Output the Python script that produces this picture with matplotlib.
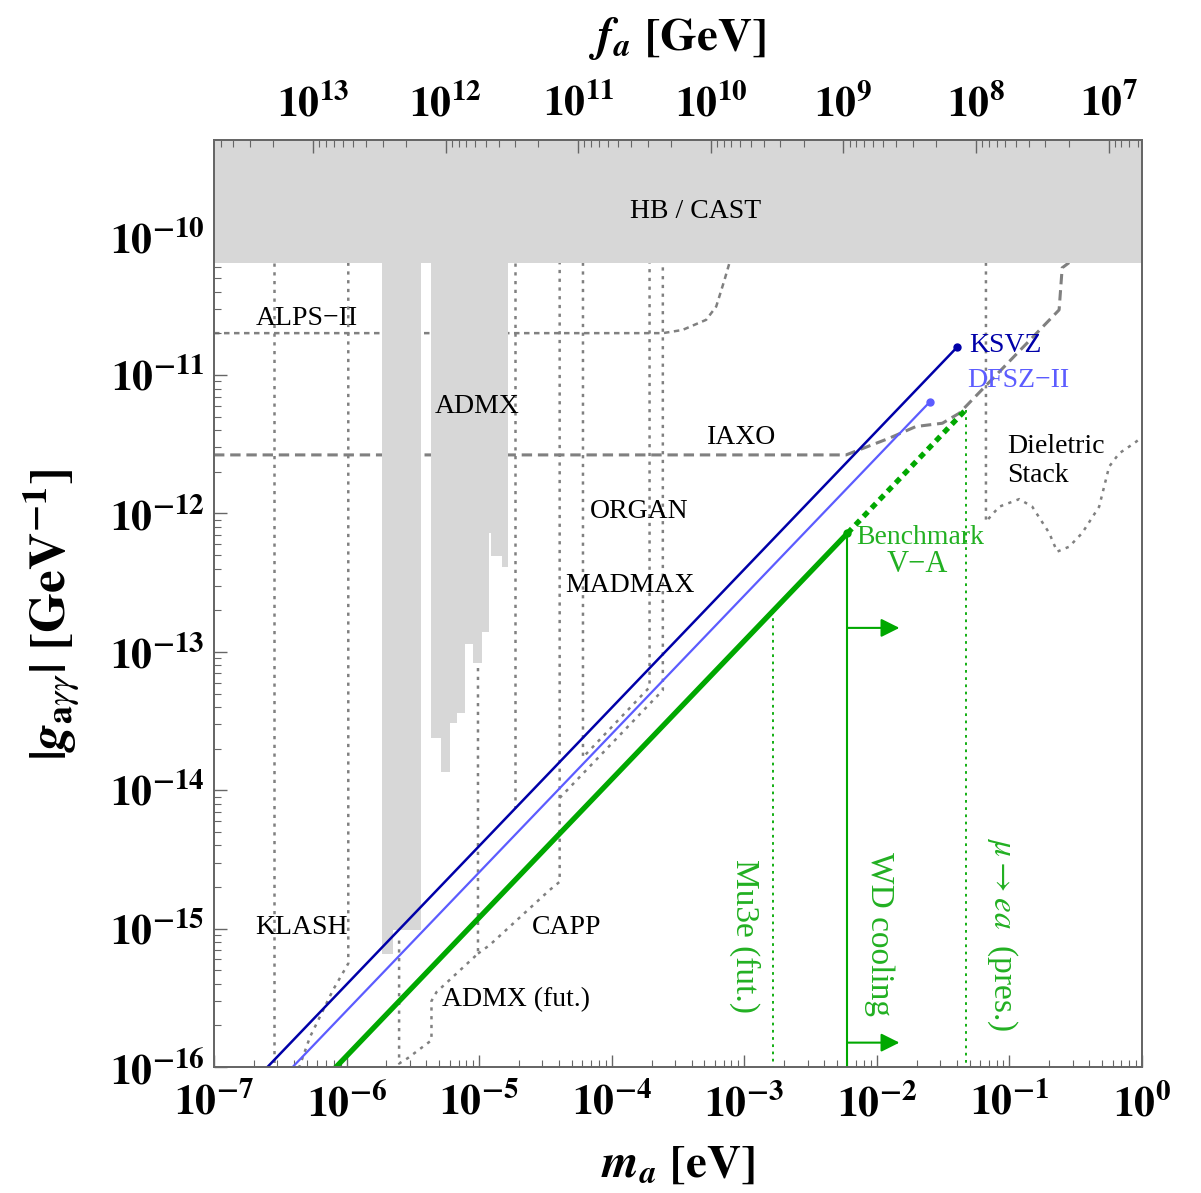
import numpy as np
import matplotlib
matplotlib.use("Agg")
import matplotlib.pyplot as plt
from matplotlib.ticker import LogLocator, FuncFormatter, NullFormatter, FixedLocator

plt.rcParams['font.family'] = ['Liberation Serif', 'DejaVu Serif']
plt.rcParams['mathtext.fontset'] = 'stix'

# ---------------- data ----------------
K_FA = 5.6e6          # f_a [GeV] * m_a [eV]
G_BAND = 6.5e-11      # HB / CAST bound
XLIM = (1e-7, 1.0)
YLIM = (1e-16, 5.0e-10)
FA_DECADES = [7, 8, 9, 10, 11, 12, 13]

# model lines (m_a [eV], g [GeV^-1])
ksvz_m = [1e-7, 0.0405]
ksvz_g = [3.95e-17, 1.60e-11]
dfsz_m = [1e-7, 0.0252]
dfsz_g = [2.55e-17, 6.43e-12]
bench_m = [1e-7, 6.0e-3]
bench_g = [1.2e-17, 7.2e-13]
bench_dot_m = [6.0e-3, 0.047]
bench_dot_g = [7.2e-13, 5.64e-12]

# green vertical limits
mu3e_m = 1.64e-3
mu3e_g = [1.97e-13, 1e-16]
wd_m = 6.0e-3
wd_g = [7.2e-13, 1e-16]
wd_arrow_g = [1.49e-13, 1.5e-16]
wd_arrow_end = 0.0148
muea_m = 0.047
muea_g = [5.64e-12, 1e-16]

# ADMX excluded columns (step edges, bottom values)
admx1_edges = [1.85e-6, 2.23e-6, 3.63e-6]
admx1_bottom = [6.6e-16, 9.7e-16]
admx2_edges = [4.37e-6, 5.14e-6, 6.0e-6, 6.77e-6, 7.78e-6, 8.95e-6, 1.047e-5,
               1.18e-5, 1.22e-5, 1.48e-5, 1.65e-5]
admx2_bottom = [2.38e-14, 1.35e-14, 3.05e-14, 3.60e-14, 1.14e-13, 8.3e-14,
                1.39e-13, 7.2e-13, 4.93e-13, 4.1e-13]

# ALPS-II
alps_m = [1e-7, 2.43e-4, 3.42e-4, 5.16e-4, 6.14e-4, 7.09e-4, 7.74e-4]
alps_g = [2.01e-11, 2.01e-11, 2.12e-11, 2.51e-11, 3.13e-11, 4.87e-11, 6.5e-11]

# IAXO
iaxo_m = [1e-7, 5.86e-3, 0.0124, 0.0197, 0.0312, 0.0419, 0.237, 0.250, 0.282]
iaxo_g = [2.65e-12, 2.65e-12, 3.50e-12, 4.25e-12, 4.49e-12, 5.31e-12, 2.96e-11,
          5.96e-11, 6.5e-11]

# KLASH
klash_left_m = 2.83e-7
klash_m = [1.03e-6, 1.03e-6, 7.9e-7, 5.3e-7, 4.4e-7]
klash_g = [6.5e-11, 5.6e-16, 3.6e-16, 1.65e-16, 1.0e-16]

# ADMX (fut.)
admxf_m = [2.49e-6, 2.49e-6, 2.90e-6, 4.37e-6, 4.37e-6, 4.77e-6, 9.8e-6, 9.8e-6]
admxf_g = [8.2e-16, 1.06e-16, 1.16e-16, 1.56e-16, 3.0e-16, 3.48e-16, 6.6e-16, 6.5e-11]

# CAPP
capp_m = [9.8e-6, 1.2e-5, 3.4e-5, 4.05e-5, 4.05e-5]
capp_g = [6.6e-16, 7.6e-16, 1.9e-15, 2.18e-15, 6.5e-11]

# extra vertical
v515_m = 1.85e-5
v515_g = [6.5e-11, 7.5e-15]

# ORGAN
organ_m = [6.07e-5, 6.07e-5, 1.93e-4, 1.93e-4]
organ_g = [6.5e-11, 1.73e-14, 5.56e-14, 6.5e-11]

# MADMAX
madmax_m = [4.05e-5, 2.43e-4, 2.43e-4]
madmax_g = [8.8e-15, 5.29e-14, 6.5e-11]

# Dielectric stack
diel_m = [0.0665, 0.0665, 0.0838, 0.1186, 0.1486, 0.1995, 0.229, 0.282, 0.354,
          0.475, 0.565, 0.673, 0.873, 0.984]
diel_g = [6.5e-11, 8.73e-13, 1.12e-12, 1.27e-12, 1.12e-12, 7.23e-13, 5.30e-13,
          5.75e-13, 7.23e-13, 1.12e-12, 2.18e-12, 2.72e-12, 3.22e-12, 3.52e-12]

# ---------------- style ----------------
GRAY_FILL = '#d7d7d7'
GRAY_LINE = '#808080'
GREEN = '#00a800'
GREEN_TXT = '#22b022'
KSVZ_C = '#0000a8'
DFSZ_C = '#5c5cff'
DOT = (0, (1.3, 2.2))

fig = plt.figure(figsize=(12.01, 11.93), dpi=100)
ax = fig.add_axes([214/1201, 1 - 1067/1193, (1142-214)/1201, (1067-140)/1193])
ax.set_xscale('log')
ax.set_yscale('log')
ax.set_xlim(*XLIM)
ax.set_ylim(*YLIM)

# HB/CAST band
ax.fill_between(XLIM, [G_BAND, G_BAND], [YLIM[1]*2, YLIM[1]*2], color=GRAY_FILL, lw=0, zorder=2)

# gray dotted / dashed experiment lines
lkw = dict(color=GRAY_LINE, lw=1.8, ls=DOT, zorder=1)
ax.plot([klash_left_m, klash_left_m], [G_BAND, YLIM[0]], **lkw)
ax.plot(klash_m, klash_g, **lkw)
ax.plot(admxf_m, admxf_g, **lkw)
ax.plot(capp_m, capp_g, **lkw)
ax.plot([v515_m, v515_m], v515_g, **lkw)
ax.plot(organ_m, organ_g, **lkw)
ax.plot(madmax_m, madmax_g, **lkw)
ax.plot(diel_m, diel_g, **lkw)
ax.plot(alps_m, alps_g, color=GRAY_LINE, lw=1.8, ls=(0, (2.2, 1.8)), zorder=1)
ax.plot(iaxo_m, iaxo_g, color=GRAY_LINE, lw=2.2, ls=(0, (3.4, 1.9)), zorder=1)

# ADMX columns
ax.fill_between(admx1_edges, admx1_bottom + [admx1_bottom[-1]], G_BAND*1.05,
                step='post', color=GRAY_FILL, lw=0, zorder=2)
ax.fill_between(admx2_edges, admx2_bottom + [admx2_bottom[-1]], G_BAND*1.05,
                step='post', color=GRAY_FILL, lw=0, zorder=2)

# model lines
ax.plot(ksvz_m, ksvz_g, color=KSVZ_C, lw=1.8, zorder=4)
ax.plot(ksvz_m[-1], ksvz_g[-1], 'o', color=KSVZ_C, ms=5, zorder=4)
ax.plot(dfsz_m, dfsz_g, color=DFSZ_C, lw=1.6, zorder=4)
ax.plot(dfsz_m[-1], dfsz_g[-1], 'o', color=DFSZ_C, ms=5, zorder=4)
ax.plot(bench_m, bench_g, color=GREEN, lw=3.8, zorder=4, solid_capstyle='butt')
ax.plot(bench_dot_m, bench_dot_g, color=GREEN, lw=3.8, ls=(0, (1.2, 1.0)), zorder=4)
ax.plot(bench_m[-1], bench_g[-1], 'o', color=GREEN, ms=5, zorder=4)

# green vertical lines
ax.plot([mu3e_m, mu3e_m], mu3e_g, color=GREEN, lw=1.3, ls=(0, (1.5, 2.5)), zorder=4)
ax.plot([muea_m, muea_m], muea_g, color=GREEN, lw=1.3, ls=(0, (1.5, 2.5)), zorder=4)
ax.plot([wd_m, wd_m], wd_g, color=GREEN, lw=1.5, zorder=4)
for ga in wd_arrow_g:
    ax.annotate('', xy=(wd_arrow_end, ga), xytext=(wd_m, ga),
                arrowprops=dict(arrowstyle='-|>', color=GREEN, lw=1.5,
                                mutation_scale=28, shrinkA=0, shrinkB=0),
                zorder=4)

# labels
tk = dict(fontsize=20, color='black', zorder=5)
ax.text(4.28e-4, 1.51e-10, 'HB / CAST', ha='center', va='center', **tk)
ax.text(4.98e-7, 2.55e-11, 'ALPS\u2212II', ha='center', va='center', **tk)
ax.text(9.6e-6, 5.89e-12, 'ADMX', ha='center', va='center', **tk)
ax.text(9.53e-4, 3.57e-12, 'IAXO', ha='center', va='center', **tk)
ax.text(1.62e-4, 1.03e-12, 'ORGAN', ha='center', va='center', **tk)
ax.text(1.36e-4, 3.04e-13, 'MADMAX', ha='center', va='center', **tk)
ax.text(4.53e-7, 1.02e-15, 'KLASH', ha='center', va='center', **tk)
ax.text(4.57e-5, 1.02e-15, 'CAPP', ha='center', va='center', **tk)
ax.text(1.89e-5, 3.09e-16, 'ADMX (fut.)', ha='center', va='center', **tk)
ax.text(0.0962, 2.41e-12, 'Dieletric\nStack', ha='left', va='center',
        linespacing=1.2, **tk)
ax.text(0.0498, 1.63e-11, 'KSVZ', ha='left', va='center', fontsize=20, color=KSVZ_C, zorder=5)
ax.text(0.0481, 9.2e-12, 'DFSZ\u2212II', ha='left', va='center', fontsize=20, color=DFSZ_C, zorder=5)
ax.text(0.0213, 6.68e-13, 'Benchmark', ha='center', va='center', fontsize=20, color=GREEN_TXT, zorder=5)
ax.text(0.0202, 4.25e-13, 'V\u2212A', ha='center', va='center', fontsize=22, color=GREEN_TXT, zorder=5)
ax.text(1.0e-3, 8.8e-16, 'Mu3e (fut.)', ha='center', va='center', rotation=-90,
        fontsize=24, color=GREEN_TXT, zorder=5)
ax.text(0.01045, 9.1e-16, 'WD cooling', ha='center', va='center', rotation=-90,
        fontsize=24, color=GREEN_TXT, zorder=5)
ax.text(0.0883, 9.1e-16, r'$\mu\rightarrow ea$  (pres.)', ha='center', va='center',
        rotation=-90, fontsize=24, color=GREEN_TXT, zorder=5)

# axes styling
def fmt(v, pos):
    if v <= 0:
        return ''
    e = int(np.round(np.log10(v)))
    if abs(v - 10.0**e) > 1e-6 * 10.0**e:
        return ''
    return r'$\mathbf{10^{%d}}$' % e

FRAME = '#666666'
for s in ax.spines.values():
    s.set_color(FRAME)
    s.set_linewidth(1.3)
ax.xaxis.set_major_locator(LogLocator(base=10, numticks=20))
ax.xaxis.set_minor_locator(LogLocator(base=10, subs=np.arange(2, 10), numticks=20))
ax.yaxis.set_major_locator(LogLocator(base=10, numticks=20))
ax.yaxis.set_minor_locator(LogLocator(base=10, subs=np.arange(2, 10), numticks=20))
ax.xaxis.set_major_formatter(FuncFormatter(fmt))
ax.yaxis.set_major_formatter(FuncFormatter(fmt))
ax.xaxis.set_minor_formatter(NullFormatter())
ax.yaxis.set_minor_formatter(NullFormatter())
ax.tick_params(which='both', direction='in', colors=FRAME, labelcolor='black',
               top=False, right=False)
ax.tick_params(which='major', length=9, width=1.0, labelsize=30)
ax.tick_params(axis='x', which='major', pad=12)
ax.tick_params(axis='y', which='major', pad=7)
ax.tick_params(which='minor', length=5, width=0.8)

# top axis: f_a = K / m_a
top = ax.twiny()
top.set_xscale('log')
top.set_xlim(*XLIM)
major_m = [K_FA / 10.0**n for n in FA_DECADES]
minor_m = [K_FA / (k * 10.0**n) for n in range(6, 14) for k in range(2, 10)]
minor_m = [v for v in minor_m if XLIM[0] <= v <= XLIM[1]]
top.xaxis.set_major_locator(FixedLocator(major_m))
top.xaxis.set_minor_locator(FixedLocator(minor_m))
top.set_xticklabels([r'$\mathbf{10^{%d}}$' % n for n in FA_DECADES])
top.xaxis.set_minor_formatter(NullFormatter())
top.tick_params(which='both', direction='in', colors=FRAME, labelcolor='black')
top.tick_params(which='major', length=9, width=1.0, labelsize=30, pad=11)
top.tick_params(which='minor', length=5, width=0.8)
top.tick_params(axis='y', left=False, right=False, labelleft=False, labelright=False)
for s in top.spines.values():
    s.set_color(FRAME)
    s.set_linewidth(1.3)
top.set_xlabel(r'$\mathbfit{f_a}$ $\mathbf{[GeV]}$', fontsize=34, labelpad=24)

ax.set_xlabel(r'$\mathbfit{m_a}$ $\mathbf{[eV]}$', fontsize=34, labelpad=14)
fig.text(52/1201, 1 - 615/1193, r'$\mathbf{|}\mathbfit{g}_{\mathbf{a}\gamma\gamma}\mathbf{|}$ $\mathbf{[GeV^{-1}]}$',
         rotation=90, ha='center', va='center', fontsize=37)

fig.savefig('out.png', dpi=100)
